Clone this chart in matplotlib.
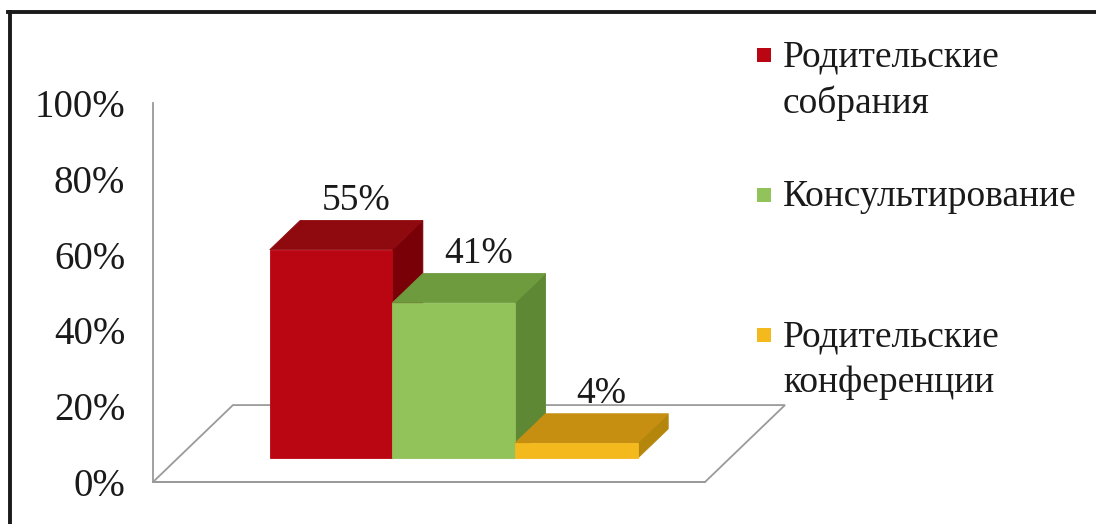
import numpy as np
import matplotlib.pyplot as plt
from matplotlib.patches import Polygon
from matplotlib.lines import Line2D

plt.rcParams['font.family'] = ['Liberation Serif', 'DejaVu Serif']

categories = ["Родительские\nсобрания", "Консультирование", "Родительские\nконференции"]
values = [55, 41, 4]
value_labels = ["55%", "41%", "4%"]
yticks = [0, 20, 40, 60, 80, 100]

front_colors = ["#BA0613", "#92C25A", "#F4B91C"]
top_colors = ["#8E0A0E", "#6E9B3E", "#C68F12"]
side_colors = ["#7A0008", "#5E8833", "#B5860C"]

# oblique projection: depth vector in data units
depth_dx = 0.652
depth_dy = 20.3
d0, d1 = 0.31, 0.69
gap = 0.75
width = 1.0
floor_w = 2 * gap + len(values) * width


def proj(x, y, d):
    return (x + d * depth_dx, y + d * depth_dy)


fig = plt.figure(figsize=(10.96, 5.24), dpi=100)
ax = fig.add_axes([153 / 1096, 42 / 524, 552 / 1096, 379 / 524])
ax.set_xlim(0, floor_w)
ax.set_ylim(0, 100)

# floor
floor = [proj(0, 0, 0), proj(floor_w, 0, 0), proj(floor_w, 0, 1), proj(0, 0, 1)]
ax.add_patch(Polygon(floor, closed=True, facecolor="white", edgecolor="#9a9a9a",
                     lw=1.3, clip_on=False, zorder=1))

for i, v in enumerate(values):
    x0 = gap + i * width
    x1 = x0 + width
    side = [proj(x1, 0, d0), proj(x1, 0, d1), proj(x1, v, d1), proj(x1, v, d0)]
    top = [proj(x0, v, d0), proj(x1, v, d0), proj(x1, v, d1), proj(x0, v, d1)]
    front = [proj(x0, 0, d0), proj(x1, 0, d0), proj(x1, v, d0), proj(x0, v, d0)]
    z = 2 + i
    for poly, c in [(side, side_colors[i]), (top, top_colors[i]), (front, front_colors[i])]:
        ax.add_patch(Polygon(poly, closed=True, facecolor=c, edgecolor=c, lw=0.6,
                             clip_on=False, zorder=z))
    lx, ly = proj(x0 + width / 2, v, 0.62)
    ax.text(lx, ly + 2.2, value_labels[i], ha="center", va="bottom", fontsize=27,
            color="#1a1a1a", zorder=10)

for s in ["top", "right"]:
    ax.spines[s].set_visible(False)
for s in ["left", "bottom"]:
    ax.spines[s].set_color("#9a9a9a")
    ax.spines[s].set_linewidth(1.3)
    ax.spines[s].set_zorder(1.5)
ax.set_xticks([])
ax.set_yticks(yticks)
ax.set_yticklabels([f"{t}%" for t in yticks], fontsize=28, color="#1a1a1a")
ax.tick_params(axis="y", length=0, pad=20)
ax.patch.set_alpha(0)

# legend
for i, name in enumerate(categories):
    yc = 1 - (55 + i * 140) / 524
    fig.patches.append(plt.Rectangle((757 / 1096, yc - 7 / 524), 14 / 1096, 14 / 524,
                                     transform=fig.transFigure, facecolor=front_colors[i],
                                     edgecolor="none"))
    fig.text(783 / 1096, yc + 15 / 524, name, ha="left", va="top", fontsize=27,
             color="#1a1a1a", linespacing=1.4)

# frame (top and left only visible)
fig.add_artist(Line2D([9.5 / 1096, 9.5 / 1096], [0, 1 - 11.5 / 524], transform=fig.transFigure,
                      color="#1a1a1a", lw=2.8))
fig.add_artist(Line2D([8 / 1096, 1], [1 - 11.5 / 524, 1 - 11.5 / 524], transform=fig.transFigure,
                      color="#1a1a1a", lw=2.8))

fig.savefig("out.png", dpi=100)
